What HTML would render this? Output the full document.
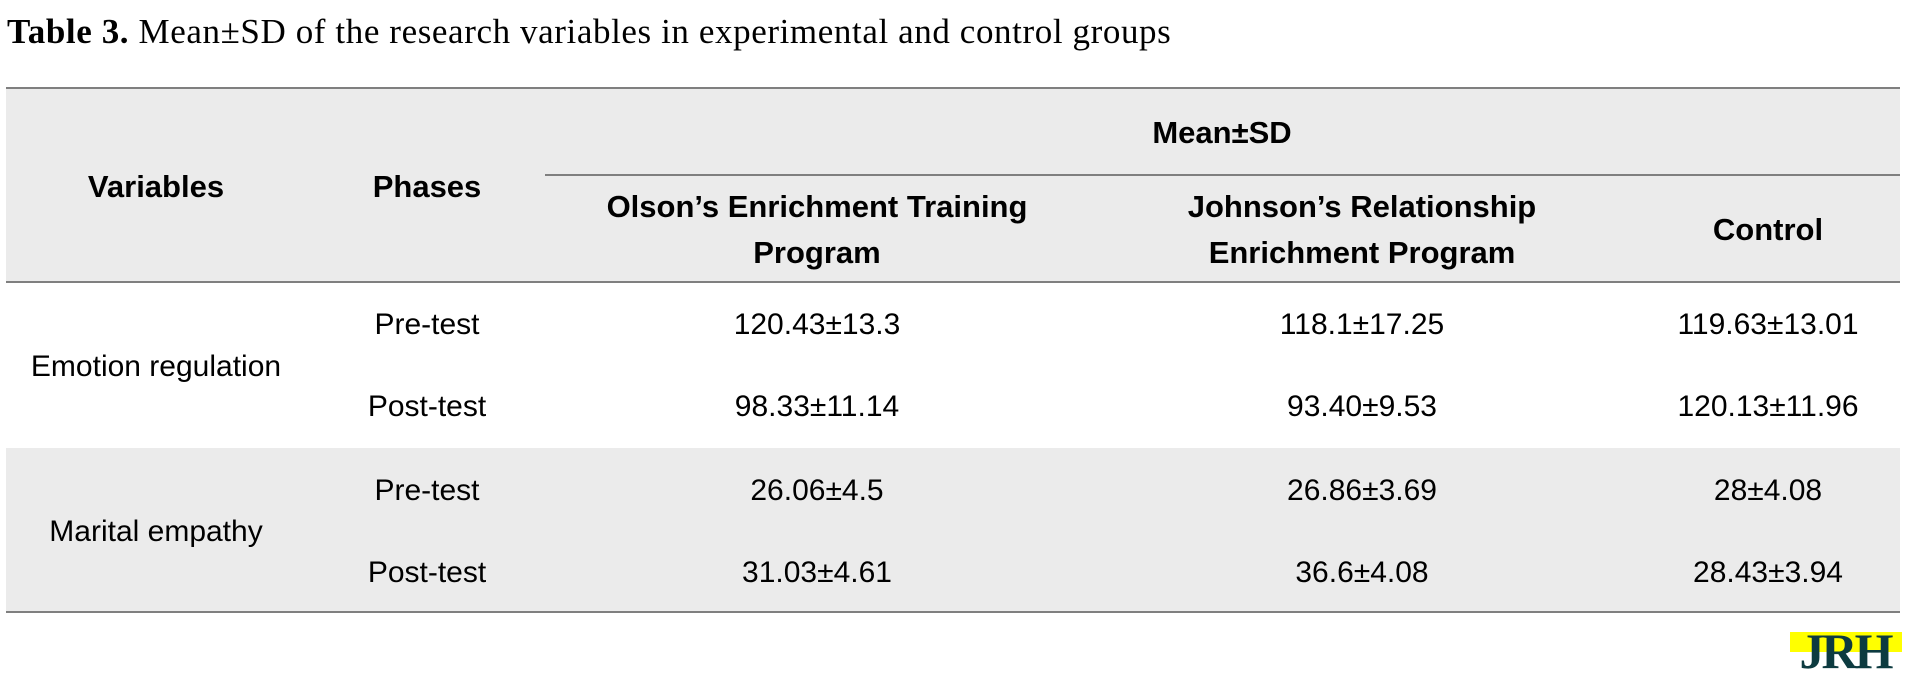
<!DOCTYPE html>
<html><head><meta charset="utf-8"><style>
body{margin:0;width:1906px;height:683px;background:#fff;position:relative;overflow:hidden;font-family:"Liberation Sans",sans-serif;color:#000}
.a{position:absolute}
.t{position:absolute;transform:translate(-50%,-50%);white-space:nowrap;text-align:center}
.h{font-weight:bold;font-size:31px;line-height:46px}
.b{font-size:30px}
.line{position:absolute;left:6px;width:1894px;height:2px;background:#7f7f7f}
</style></head><body>
<div class="a" style="left:7px;top:12px;font-family:'Liberation Serif',serif;font-size:35px;letter-spacing:0.6px;white-space:nowrap"><b>Table 3.</b> Mean±SD of the research variables in experimental and control groups</div>
<div class="a" style="left:6px;top:88px;width:1894px;height:194px;background:#ebebeb"></div>
<div class="a" style="left:6px;top:448px;width:1894px;height:164px;background:#ebebeb"></div>
<div class="line" style="top:87px"></div>
<div class="a" style="left:545px;top:174px;width:1355px;height:2px;background:#7f7f7f"></div>
<div class="line" style="top:281px"></div>
<div class="line" style="top:611px"></div>

<div class="t h" style="left:156px;top:187px">Variables</div>
<div class="t h" style="left:427px;top:187px">Phases</div>
<div class="t h" style="left:1222px;top:133px">Mean±SD</div>
<div class="t h" style="left:817px;top:230px">Olson’s Enrichment Training<br>Program</div>
<div class="t h" style="left:1362px;top:230px">Johnson’s Relationship<br>Enrichment Program</div>
<div class="t h" style="left:1768px;top:230px">Control</div>

<div class="t b" style="left:156px;top:367px">Emotion regulation</div>
<div class="t b" style="left:156px;top:532px">Marital empathy</div>

<div class="t b" style="left:427px;top:325px">Pre-test</div>
<div class="t b" style="left:427px;top:407px">Post-test</div>
<div class="t b" style="left:427px;top:491px">Pre-test</div>
<div class="t b" style="left:427px;top:573px">Post-test</div>

<div class="t b" style="left:817px;top:325px">120.43±13.3</div>
<div class="t b" style="left:1362px;top:325px">118.1±17.25</div>
<div class="t b" style="left:1768px;top:325px">119.63±13.01</div>
<div class="t b" style="left:817px;top:407px">98.33±11.14</div>
<div class="t b" style="left:1362px;top:407px">93.40±9.53</div>
<div class="t b" style="left:1768px;top:407px">120.13±11.96</div>
<div class="t b" style="left:817px;top:491px">26.06±4.5</div>
<div class="t b" style="left:1362px;top:491px">26.86±3.69</div>
<div class="t b" style="left:1768px;top:491px">28±4.08</div>
<div class="t b" style="left:817px;top:573px">31.03±4.61</div>
<div class="t b" style="left:1362px;top:573px">36.6±4.08</div>
<div class="t b" style="left:1768px;top:573px">28.43±3.94</div>

<div class="a" style="left:1788px;top:630px;width:114px;height:42px">
<div class="a" style="left:2px;top:2px;width:112px;height:20px;background:#ffff00"></div>
<div class="a" style="left:0;top:-4px;width:114px;font-family:'Liberation Serif',serif;font-weight:bold;font-size:50px;line-height:50px;color:#0d3b40;letter-spacing:-3px;text-align:center">JRH</div>
</div>
</body></html>
